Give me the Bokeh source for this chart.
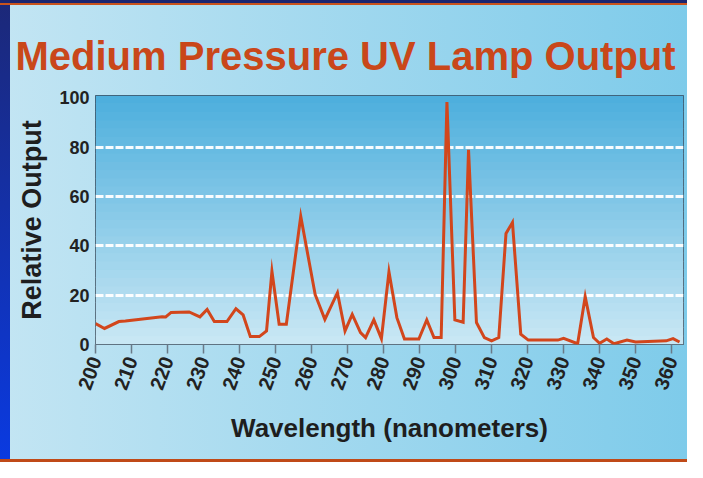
from bokeh.plotting import figure
from bokeh.models import BoxAnnotation, Range1d, FixedTicker, ColumnDataSource
from bokeh.embed import file_html
from bokeh.resources import INLINE

# ---- data ----
wavelength = [200, 202.5, 206.5, 208.3, 218.5, 219.5, 221, 226, 229, 231, 233,
              236.5, 239, 241, 243, 245.5, 247.5, 249, 251, 253, 257, 261,
              263.7, 267.2, 269.3, 271.3, 273.6, 275, 277.3, 279.4, 281.5,
              283.7, 285.8, 289.8, 292, 294, 296, 297.6, 299.8, 302.1, 303.6,
              305.8, 308, 310, 312, 314, 315.8, 318.1, 320.2, 328.4, 330,
              333.9, 336, 338.3, 340, 342, 344, 347.6, 350, 358.5, 360.4, 362.2]
rel_output = [8.5, 6.5, 9.3, 9.5, 11.3, 11.2, 13, 13.2, 11.2, 14.2, 9.3,
              9.3, 14.5, 12, 3.2, 3.2, 5.5, 29.7, 8.2, 8.2, 52, 20.3,
              10.2, 21, 5.5, 12.2, 4.8, 2.8, 10, 2.4, 29.5,
              10.9, 2.2, 2.2, 10, 2.8, 2.8, 98.3, 10, 9, 79,
              8.9, 2.8, 1.5, 2.8, 45, 49.5, 4.2, 1.8, 1.8, 2.5,
              0.3, 19.4, 2.8, 0.5, 2.2, 0.3, 1.8, 1.0, 1.5, 2.4, 1.0]
x_ticks = list(range(200, 361, 10))
y_ticks = [0, 20, 40, 60, 80, 100]
grid_levels = [20, 40, 60, 80]

title_text = "Medium Pressure UV Lamp Output"
x_label = "Wavelength (nanometers)"
y_label = "Relative Output"

W, H = 687, 462
X0, X1 = 200, 363.3
Y0, Y1 = 0, 101

panel_css = (
    "linear-gradient(#1b2570,#1b2570) 0 0 / 100% 3px no-repeat, "
    "linear-gradient(#c9531c,#c9531c) 0 3px / 100% 2px no-repeat, "
    "linear-gradient(#c04a18,#c04a18) 0 100% / 100% 3px no-repeat, "
    "linear-gradient(to bottom,#1c2878,#0a3ae1) 0 0 / 10px 100% no-repeat, "
    "linear-gradient(to right,#c3e5f3,#7ecbea)"
)

p = figure(width=W, height=H, output_backend="svg", toolbar_location=None,
           x_range=Range1d(X0, X1), y_range=Range1d(Y0, Y1),
           min_border_left=95, min_border_right=4, min_border_top=95,
           min_border_bottom=118,
           styles={"background": panel_css})
p.border_fill_alpha = 0
p.background_fill_color = "#8ccbe8"
p.outline_line_color = "#3d4d5d"
p.outline_line_width = 1


def mix(c0, c1, t):
    return "#%02x%02x%02x" % tuple(int(round(a + (b - a) * t)) for a, b in zip(c0, c1))


# plot-area gradient (deeper blue at the top, pale at the bottom)
m = 30
for i in range(m):
    b = Y0 + (Y1 - Y0) * i / m
    t = Y0 + (Y1 - Y0) * (i + 1) / m + 0.2
    col = mix((200, 231, 244), (78, 175, 221), i / (m - 1))
    p.add_layout(BoxAnnotation(bottom=b, top=min(t, Y1), fill_color=col,
                               fill_alpha=1, line_alpha=0, level="image"))

# grid
p.xgrid.visible = False
p.ygrid.ticker = FixedTicker(ticks=grid_levels)
p.ygrid.grid_line_color = "white"
p.ygrid.grid_line_width = 3
p.ygrid.grid_line_dash = "8 2"
p.ygrid.grid_line_alpha = 0.95

# axes
p.xaxis.ticker = FixedTicker(ticks=x_ticks)
p.yaxis.ticker = FixedTicker(ticks=y_ticks)
p.xaxis.axis_line_color = None
p.yaxis.axis_line_color = None
p.yaxis.major_tick_line_color = None
p.yaxis.major_tick_out = 0
p.yaxis.major_tick_in = 0
p.yaxis.minor_tick_line_color = None
p.xaxis.minor_tick_line_color = None
p.xaxis.major_tick_in = 0
p.xaxis.major_tick_out = 9
p.xaxis.major_tick_line_color = "#6a7a88"
p.xaxis.major_tick_line_width = 1.5
p.xaxis.major_label_orientation = 1.22
p.xaxis.major_label_standoff = 4
p.yaxis.major_label_standoff = 6

for ax, fs in ((p.xaxis, "20px"), (p.yaxis, "18px")):
    ax.major_label_text_font = "Liberation Sans"
    ax.major_label_text_font_style = "bold"
    ax.major_label_text_font_size = fs
    ax.major_label_text_color = "#222222"
    ax.axis_label_text_font = "Liberation Sans"
    ax.axis_label_text_font_style = "bold"
    ax.axis_label_text_color = "#1e1e1e"

p.xaxis.axis_label = x_label
p.xaxis.axis_label_text_font_size = "26px"
p.xaxis.axis_label_standoff = 16
p.yaxis.axis_label = y_label
p.yaxis.axis_label_text_font_size = "27px"
p.yaxis.axis_label_standoff = 9

# title
p.title.text = title_text
p.title.text_font = "Liberation Sans"
p.title.text_font_style = "bold"
p.title.text_font_size = "40px"
p.title.text_color = "#c9471a"
p.title.align = "left"
p.title.offset = -80
p.title.standoff = 36

src = ColumnDataSource(dict(wl=wavelength, out=rel_output))
p.line(x="wl", y="out", source=src, line_color="#d2461c", line_width=3,
       line_join="miter")

open("out.html", "w").write(file_html(p, INLINE))
